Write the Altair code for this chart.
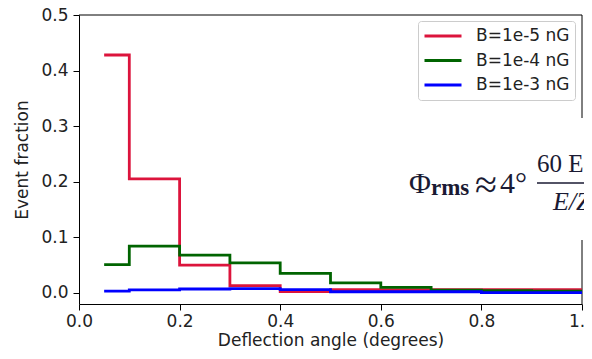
import altair as alt
import pandas as pd

# ---- data ----
edges = [0.05, 0.1, 0.2, 0.3, 0.4, 0.5, 0.6, 0.7, 0.8, 0.9, 1.0]
labels = ["B=1e-5 nG", "B=1e-4 nG", "B=1e-3 nG"]
colors = ["#dc143c", "#006400", "#0000ff"]
red_vals = [0.428, 0.205, 0.050, 0.013, 0.0025, 0.006, 0.006, 0.006, 0.006, 0.006]
green_vals = [0.051, 0.084, 0.068, 0.054, 0.035, 0.018, 0.010, 0.005, 0.004, 0.003]
blue_vals = [0.003, 0.0053, 0.007, 0.0075, 0.006, 0.002, 0.002, 0.002, 0.0005, 0.0005]
x_ticks = [0.0, 0.2, 0.4, 0.6, 0.8, 1.0]
y_ticks = [0.0, 0.1, 0.2, 0.3, 0.4, 0.5]

rows = []
for lab, vals in zip(labels, [red_vals, green_vals, blue_vals]):
    ys = vals + [vals[-1]]
    for x, y in zip(edges, ys):
        rows.append({"angle": x, "fraction": y, "series": lab})
df = pd.DataFrame(rows)

W, H = 503, 289
FONT = "DejaVu Sans"
TXT = "#222222"
SERIF = "Liberation Serif"
FCOL = "#1a1a33"

xenc = alt.X("angle:Q", scale=alt.Scale(domain=[0, 1], nice=False),
             axis=alt.Axis(values=x_ticks, format=".1f", title="Deflection angle (degrees)",
                           grid=False, domainColor="black", tickColor="black", tickSize=6,
                           labelFontSize=17, titleFontSize=17, labelFont=FONT, titleFont=FONT,
                           labelColor=TXT, titleColor=TXT, titleFontWeight="normal",
                           labelPadding=3, titlePadding=3, labelFlush=False))
yenc = alt.Y("fraction:Q", scale=alt.Scale(domain=[-0.02, 0.5], nice=False, zero=False),
             axis=alt.Axis(values=y_ticks, format=".1f", title="Event fraction",
                           grid=False, domainColor="black", tickColor="black", tickSize=6,
                           labelFontSize=17, titleFontSize=17, labelFont=FONT, titleFont=FONT,
                           labelColor=TXT, titleColor=TXT, titleFontWeight="normal",
                           labelPadding=5, titlePadding=9, labelFlush=False))
cenc = alt.Color("series:N", scale=alt.Scale(domain=labels, range=colors),
                 legend=alt.Legend(orient="none", legendX=339, legendY=6, title=None,
                                   symbolType="stroke", symbolSize=1369, symbolStrokeWidth=3,
                                   clipHeight=20, rowPadding=4.5, padding=5, labelOffset=13,
                                   labelFontSize=17, labelFont=FONT, labelColor=TXT,
                                   strokeColor="#cccccc", fillColor="white", cornerRadius=3,
                                   labelLimit=300))

def series_line(lab):
    return (alt.Chart(df).transform_filter(alt.datum.series == lab)
            .mark_line(interpolate="step-after", strokeWidth=2.8)
            .encode(x=xenc, y=yenc, color=cenc))

one = pd.DataFrame({"k": [0]})
top_spine = alt.Chart(one).mark_rule(color="black", strokeWidth=1).encode(
    x=alt.value(0), x2=alt.value(W), y=alt.value(0))
right_spine = alt.Chart(one).mark_rule(color="black", strokeWidth=1).encode(
    x=alt.value(W), y=alt.value(0), y2=alt.value(H))
white_box = alt.Chart(one).mark_rect(fill="white", stroke=None).encode(
    x=alt.value(395), x2=alt.value(540), y=alt.value(103), y2=alt.value(225))

def ftext(txt, x, y, size, style="normal", weight="normal"):
    return alt.Chart(one).mark_text(text=txt, font=SERIF, fontSize=size, fontStyle=style,
                                    fontWeight=weight, color=FCOL, align="left",
                                    baseline="alphabetic").encode(x=alt.value(x), y=alt.value(y))

phi = ftext("Φ", 330, 178, 30)
rms = ftext("rms", 352, 180, 23, weight="bold")
approx = ftext("≈", 396, 183, 40)
four = ftext("4°", 421, 178, 30)
num = ftext("60 EeV", 458, 157, 25)
den = ftext("E/Z", 474, 195, 26, style="italic")
bar = alt.Chart(one).mark_rule(color=FCOL, strokeWidth=1.5).encode(
    x=alt.value(458), x2=alt.value(530), y=alt.value(168))

chart = alt.layer(
    top_spine, right_spine,
    series_line(labels[0]), series_line(labels[1]), series_line(labels[2]),
    white_box, phi, rms, approx, four, num, bar, den
).properties(
    width=W, height=H,
    autosize=alt.AutoSizeParams(type="none"),
    padding={"left": 71, "top": 7, "right": 2, "bottom": 47},
    background="white",
).configure_view(stroke=None)

chart.save("out.html", embed_options={"renderer": "svg", "actions": False})
